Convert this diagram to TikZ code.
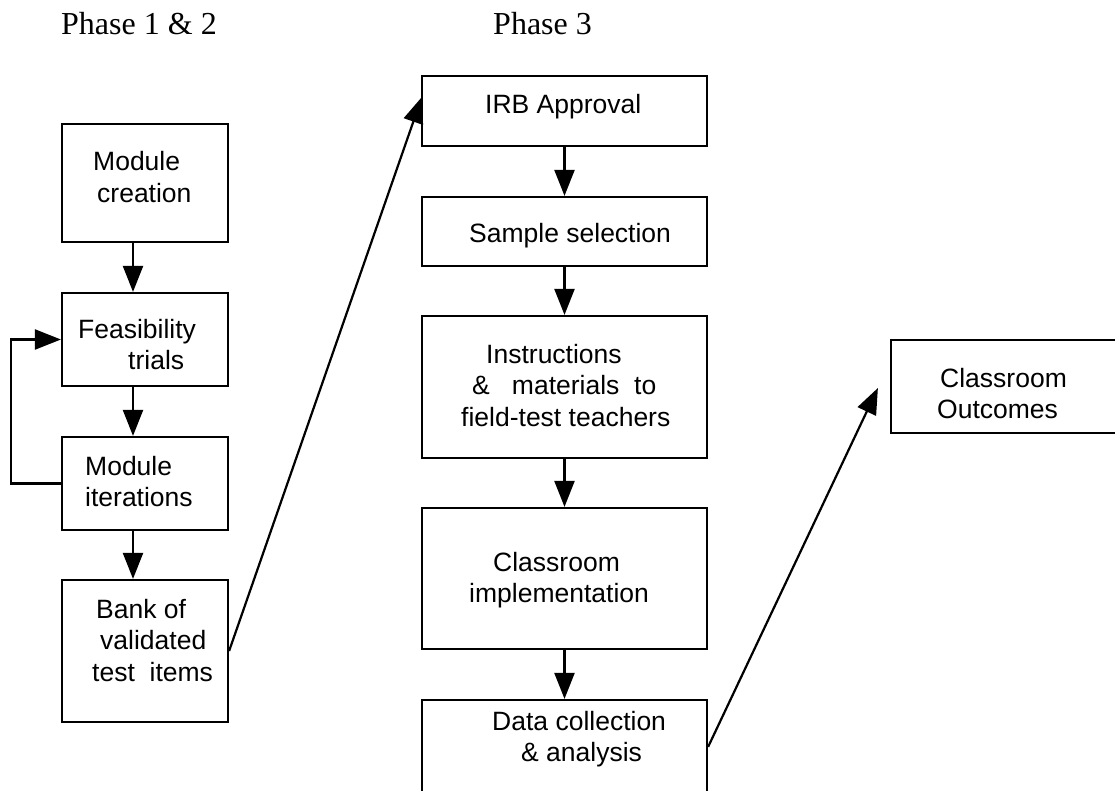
\documentclass[tikz,border=0pt]{standalone}
\usepackage{fontspec}
\setmainfont{Liberation Serif}
\newfontfamily\arialfont{Liberation Sans}
\usetikzlibrary{arrows.meta,calc}
\newcommand{\txtlines}[1]{\begin{tabular}[t]{@{}l@{}}#1\end{tabular}}
\begin{document}
\begin{tikzpicture}[x=1pt,y=-1pt,
  box/.style={draw,line width=2.2pt,rectangle,inner sep=0pt},
  lbl/.style={inner sep=0pt,anchor=base west,font=\arialfont\fontsize{26.5}{31.5}\selectfont},
  ttl/.style={inner sep=0pt,anchor=base west,font=\fontsize{32}{36}\selectfont},
  arr/.style={line width=2.2pt,-{Triangle[length=26pt,width=20pt]}}]
\useasboundingbox (0,0) rectangle (1115,791);
\clip (0,0) rectangle (1115,791);
\fill[white] (0,0) rectangle (1115,791);

% titles
\node[ttl] (p12) at (61,35) {Phase 1 \& 2};
\node[ttl] (p3) at (493,35) {Phase 3};

% left column boxes
\node[box, minimum width=166pt, minimum height=118pt] (b1) at (145,183) {};
\node[box, minimum width=166pt, minimum height=93pt] (b2) at (145,339.5) {};
\node[box, minimum width=166pt, minimum height=93pt] (b3) at (145,483.5) {};
\node[box, minimum width=166pt, minimum height=142pt] (b4) at (145,651) {};

% right column boxes
\node[box, minimum width=285pt, minimum height=70pt] (r1) at (564.5,111) {};
\node[box, minimum width=285pt, minimum height=69pt] (r2) at (564.5,231.5) {};
\node[box, minimum width=285pt, minimum height=142pt] (r3) at (564.5,387) {};
\node[box, minimum width=285pt, minimum height=141pt] (r4) at (564.5,578.5) {};
\node[box, minimum width=285pt, minimum height=120pt] (r5) at (564.5,760) {};
\node[box, minimum width=259pt, minimum height=93pt] (o) at (1020.5,386.5) {};

% texts
\node[lbl] (t1) at (93,171) {\txtlines{Module\\\hspace*{4pt}creation}};
\node[lbl] (t2) at (78,338) {\txtlines{Feasibility\\\hspace*{50pt}trials}};
\node[lbl] (t3) at (85,475) {\txtlines{Module\\iterations}};
\node[lbl] (t4) at (92,618) {\txtlines{\hspace*{4pt}Bank of\\\hspace*{8pt}validated\\test\ \ items}};
\node[lbl] (tr1) at (485,114) {IRB Approval};
\node[lbl] (tr2) at (469,243) {Sample selection};
\node[lbl] (tr3) at (461,363) {\txtlines{\hspace*{25pt}Instructions\\\hspace*{11pt}\&\ \ \ materials\ \ to\\field-test teachers}};
\node[lbl] (tr4) at (469,571) {\txtlines{\hspace*{24pt}Classroom\\implementation}};
\node[lbl] (tr5) at (492,730) {\txtlines{Data collection\\\hspace*{29pt}\& analysis}};
\node[lbl] (to) at (937,387) {\txtlines{\hspace*{3pt}Classroom\\Outcomes}};

% connectors
\coordinate (ax) at (133,0);
\draw[arr] (b1.south -| ax) -- (b2.north -| ax);
\draw[arr] (b2.south -| ax) -- (b3.north -| ax);
\draw[arr] (b3.south -| ax) -- (b4.north -| ax);
\draw[arr] (b3.west) -- ++(-50,0) |- (b2.west);
\draw[arr] (b4.east) -- ($(r1.west)+(1,-14)$);
\draw[arr] (r1.south) -- (r2.north);
\draw[arr] (r2.south) -- (r3.north);
\draw[arr] (r3.south) -- (r4.north);
\draw[arr] (r4.south) -- (r5.north);
\draw[arr] ($(r5.north east)+(0,48)$) -- ($(o.west)+(-12,1.5)$);
\end{tikzpicture}
\end{document}
